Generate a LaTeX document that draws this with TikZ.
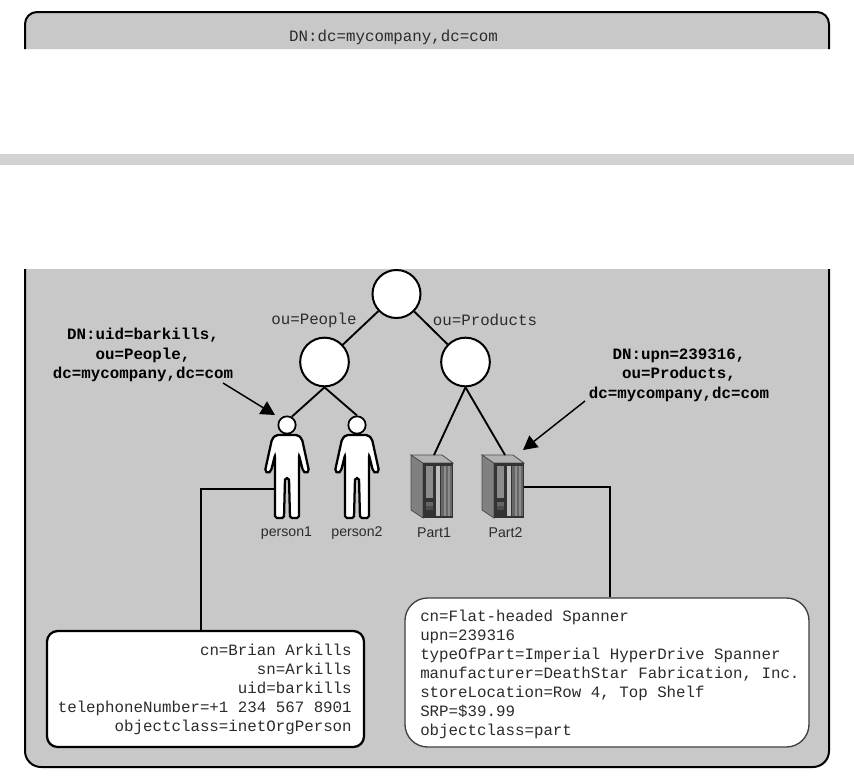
\documentclass[tikz,border=0pt]{standalone}
\usepackage{fontspec}
\setmainfont{Liberation Sans}
\setmonofont{Liberation Mono}
\usetikzlibrary{arrows.meta}
\definecolor{panelgrey}{HTML}{C8C8C8}
\definecolor{bandgrey}{HTML}{D2D2D4}
\definecolor{inkgrey}{HTML}{2B2B2B}
\tikzset{
  x=0.75pt, y=-0.75pt,
  panel/.style={fill=panelgrey},
  paneledge/.style={draw=black, line width=1.5pt},
  treenode/.style={circle, draw=black, fill=white, line width=1.5pt, inner sep=0pt},
  treeline/.style={draw=black, line width=1.4pt},
  wire/.style={draw=black, line width=1.8pt},
  pointer/.style={draw=black, line width=1.1pt, -{Triangle[length=10.5pt,width=11pt]}},
  mono/.style={font=\ttfamily\fontsize{11.85}{14.25}\selectfont, text=inkgrey, inner sep=0pt},
  monobold/.style={font=\ttfamily\bfseries\fontsize{11.85}{14.6}\selectfont, text=black, inner sep=0pt, align=center},
  caption/.style={font=\fontsize{10.6}{12}\selectfont, text=inkgrey, inner sep=0pt},
  infobox/.style={draw=black, fill=white, rectangle, inner sep=0pt},
  figure/.pic={
    \path[draw=black, fill=white, line width=1.7pt, rounded corners=1.4pt]
      (-11,10) -- (11,10) -- (15,14) -- (22,46) -- (19,48.5) -- (16,46) -- (12,30)
      -- (12,93) -- (3,93) -- (2,53) -- (-2,53) -- (-3,93) -- (-12,93) -- (-12,30)
      -- (-16,46) -- (-19,48.5) -- (-22,46) -- (-15,14) -- cycle;
    \node[treenode, minimum size=13pt, line width=1.3pt] (-head) at (0,0) {};
    \coordinate (-side) at (-12,64);
  },
  rack/.pic={
    % side and lid of the cabinet
    \fill[fill=black!50, draw=black!70, line width=.6pt] (0,0) -- (12,8) -- (12,63) -- (0,55) -- cycle;
    \fill[fill=black!30, draw=black!70, line width=.6pt] (0,0) -- (31,0) -- (42,8) -- (12,8) -- cycle;
    % front with its three bays
    \fill[black!80] (12,8) rectangle (42,63);
    \fill[black!45] (15,11) rectangle (22,43);
    \fill[black!80] (15,43) rectangle (22,47);
    \fill[black!60] (15,47) rectangle (22,51);
    \fill[black!70] (15,51) rectangle (22,55);
    \fill[black!80] (15,55) rectangle (22,60);
    \fill[black!25] (25,11) rectangle (29,61);
    \fill[black!60] (30,11) rectangle (41,61);
    \fill[black!45] (33,11) rectangle (34.5,61);
    \fill[black!45] (37,11) rectangle (38.5,61);
    \coordinate (-top) at (23,0);
    \coordinate (-side) at (42,32);
  }
}
\begin{document}
\begin{tikzpicture}
\useasboundingbox (0,0) rectangle (854,783);
\fill[white] (0,0) rectangle (854,783);

% upper panel, cut off below its title
\path[panel] (25,49) -- (25,24) [rounded corners=9pt] -- (25,12) -- (829,12) [sharp corners] -- (829,49) -- cycle;
\begin{scope}[rounded corners=9pt]
\draw[paneledge] (25,49) -- (25,12) -- (829,12) -- (829,49);
\end{scope}
\node[mono] (rootdn) at (393.5,37) {DN:dc=mycompany,dc=com};

% separating band
\fill[bandgrey] (0,154) rectangle (854,165);

% lower panel, open at its top edge
\begin{scope}[rounded corners=12pt]
\path[panel] (25,269) -- (25,767) -- (829,767) -- (829,269);
\draw[paneledge] (25,269) -- (25,767) -- (829,767) -- (829,269);
\end{scope}

% directory tree
\node[treenode, minimum size=36pt] (root) at (396.5,294) {};
\node[treenode, minimum size=36.5pt] (people) at (324.5,362) {};
\node[treenode, minimum size=36.5pt] (products) at (465.5,362) {};
\draw[treeline] (root) -- (people);
\draw[treeline] (root) -- (products);
\node[mono] (oupeople) at (314,320) {ou=People};
\node[mono] (ouproducts) at (485,320) {ou=Products};

\pic (p1) at (287,425) {figure};
\pic (p2) at (357,425) {figure};
\pic (r1) at (411,455) {rack};
\pic (r2) at (482,455) {rack};
\draw[treeline] (people.south) -- (p1-head.60);
\draw[treeline] (people.south) -- (p2-head.north);
\draw[treeline] (products.south) -- (r1-top);
\draw[treeline] (products.south) -- (r2-top);

\node[caption] (cap1) at (286.5,533) {person1};
\node[caption] (cap2) at (357,533) {person2};
\node[caption] (cap3) at (434,533) {Part1};
\node[caption] (cap4) at (505.5,533) {Part2};

% distinguished-name callouts
\node[monobold] (dnperson) at (143,355) {DN:uid=barkills,\\ou=People,\\dc=mycompany,dc=com};
\node[monobold] (dnpart) at (679,375) {DN:upn=239316,\\ou=Products,\\dc=mycompany,dc=com};
\coordinate (fromperson) at (223,383);
\coordinate (frompart) at (585,401);
\coordinate (topersona) at (275,415);
\coordinate (topart) at (523,450);
\draw[pointer] (fromperson) -- (topersona);
\draw[pointer] (frompart) -- (topart);

% attribute boxes
\node[infobox, line width=1.7pt, rounded corners=8pt, minimum width=237.75pt, minimum height=87pt] (personbox) at (205.5,689) {};
\node[infobox, draw=black!75, line width=1pt, rounded corners=17pt, minimum width=303pt, minimum height=111.75pt] (partbox) at (607,672.5) {};
\node[mono, anchor=east, align=right] (persontext) at (352,689) {cn=Brian Arkills\\sn=Arkills\\uid=barkills\\telephoneNumber=+1 234 567 8901\\objectclass=inetOrgPerson};
\node[mono, anchor=west, align=left] (parttext) at (420,674) {cn=Flat-headed Spanner\\upn=239316\\typeOfPart=Imperial HyperDrive Spanner\\manufacturer=DeathStar Fabrication, Inc.\\storeLocation=Row 4, Top Shelf\\SRP=\$39.99\\objectclass=part};

% connectors from the entries to their attributes
\draw[wire] (p1-side) -| (personbox.north -| 201,0);
\draw[wire] (r2-side) -| (partbox.north -| 610,0);
\end{tikzpicture}
\end{document}
